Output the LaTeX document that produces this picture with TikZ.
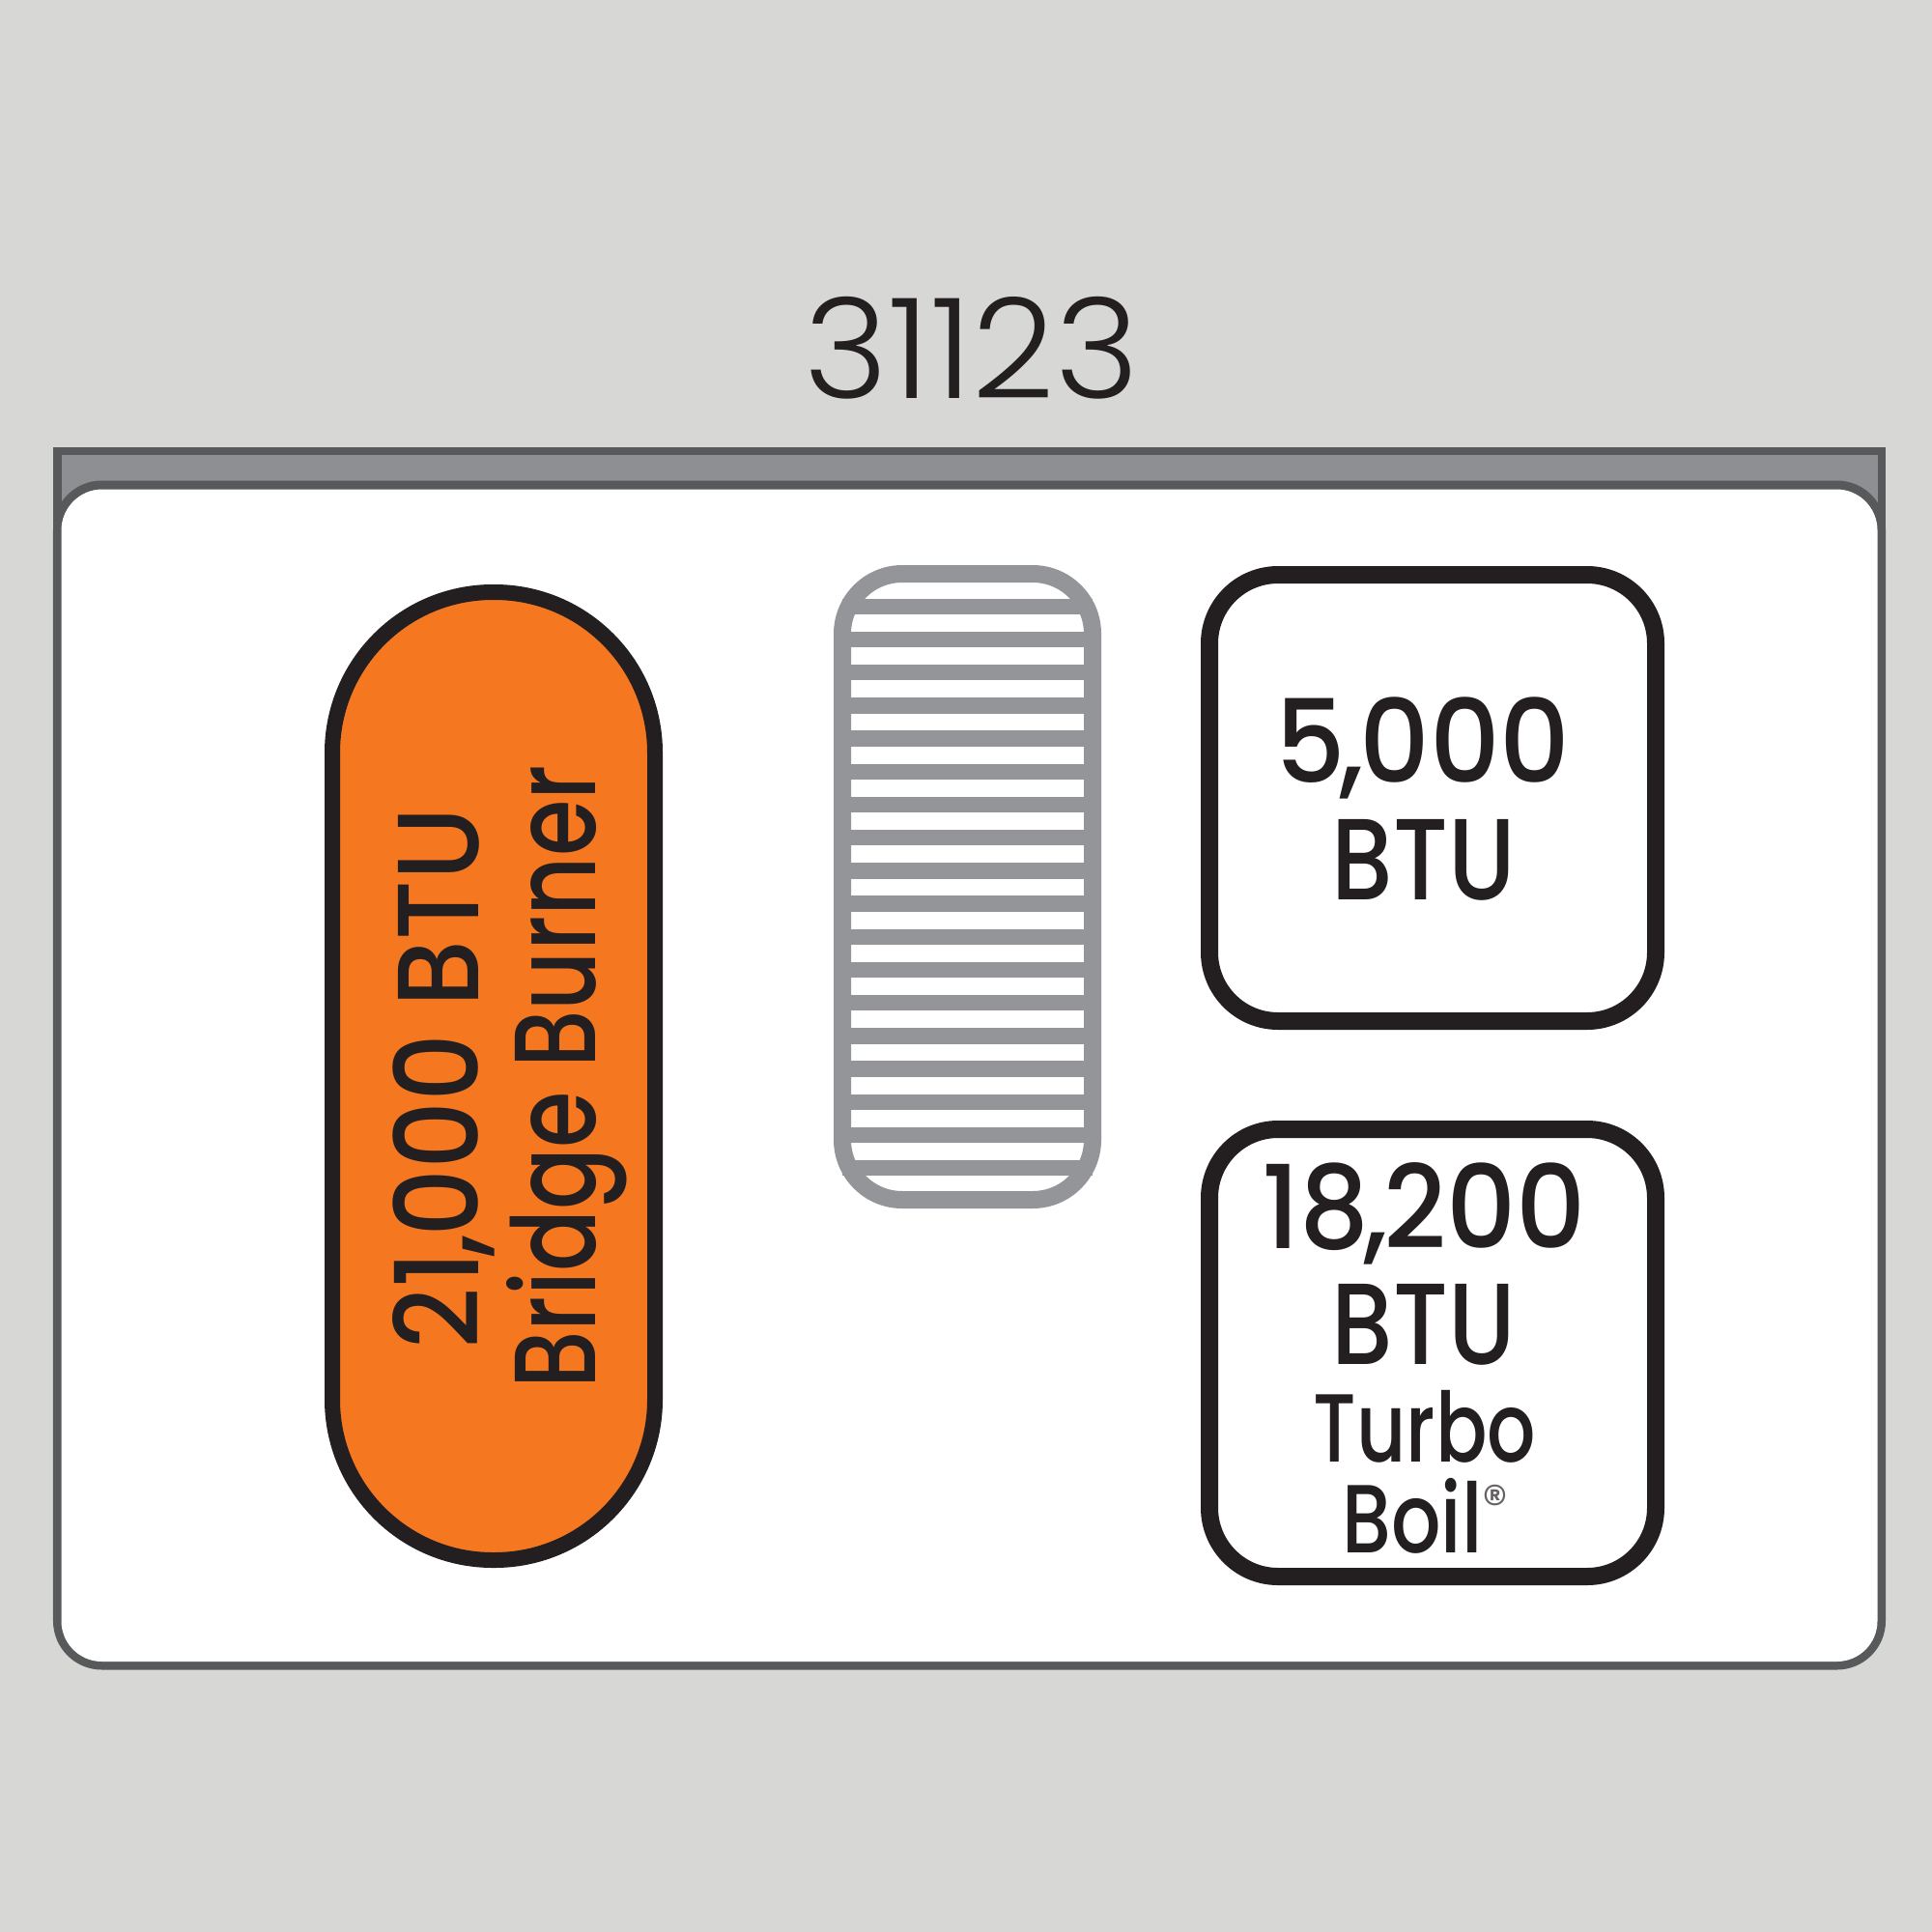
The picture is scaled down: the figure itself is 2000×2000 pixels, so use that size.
\documentclass[tikz,border=0pt]{standalone}
\usepackage{fontspec}
\usepackage{graphicx}
\setmainfont{Poppins}
\newfontfamily\medfont{Poppins Medium}
\newfontfamily\lightfont{Poppins Light}
\definecolor{bgc}{HTML}{D7D7D5}
\definecolor{orangec}{HTML}{F57720}
\definecolor{gratec}{HTML}{939598}
\definecolor{edgec}{HTML}{58595B}
\definecolor{inkc}{HTML}{231F20}
\newcommand{\fitw}[2]{\resizebox{#1cm}{\height}{#2}}
\tikzset{
  big/.style={anchor=base,inner sep=0pt,text=inkc,font=\fontsize{34}{34}\selectfont\medfont},
  small/.style={anchor=base,inner sep=0pt,text=inkc,font=\fontsize{28.5}{28.5}\selectfont\medfont},
  burnerbox/.style={draw=inkc,line width=18*0.2845pt,fill=white,rounded corners=0.71cm}
}
\begin{document}
\begin{tikzpicture}[x=0.01cm,y=-0.01cm]
\useasboundingbox (0,0) rectangle (2000,2000);
\fill[bgc] (0,0) rectangle (2000,2000);
% panel
\fill[edgec] (55,463) rectangle (1952,560) ;
\fill[gratec!96!black] (63,471) rectangle (1944,540);
\draw[edgec,line width=9*0.2845pt,fill=white,rounded corners=0.46cm] (59.5,502) rectangle (1947.5,1724);
\fill[edgec] (55,463) rectangle (63.5,560);
\fill[edgec] (1943.5,463) rectangle (1952,560);
\fill[white,rounded corners=0.42cm] (63.5,507) rectangle (1943.5,1720);
% pill
\draw[inkc,line width=16*0.2845pt,fill=orangec,rounded corners=1.66cm] (344,613) rectangle (678,1615);
% grate
\foreach \i in {0,...,17}{
  \fill[gratec] (872,{619.5+\i*34.2}) rectangle (1131,{636+\i*34.2});
}
\draw[gratec,line width=18*0.2845pt,rounded corners=0.62cm] (872,594) rectangle (1131,1242);
% boxes
\draw[burnerbox] (1252,595) rectangle (1714,1057);
\draw[burnerbox] (1252,1169) rectangle (1714,1632);
% text
\node[anchor=base,inner sep=0pt,text=inkc,font=\fontsize{41}{41}\selectfont\lightfont] (model) at (1006,412) {\fitw{3.46}{31123}};
\node[big] (a1) at (1473,810) {\fitw{3.05}{5\kern-.06em,\kern-.04em 000}};
\node[big] (a2) at (1474,931) {\fitw{1.90}{BTU}};
\node[big] (b1) at (1474,1292) {\fitw{3.35}{18\kern-.06em,\kern-.04em 200}};
\node[big] (b2) at (1474,1412) {\fitw{1.90}{BTU}};
\node[small] (b3) at (1475,1513) {\fitw{2.30}{Turbo}};
\node[small] (b4) at (1462,1607) {\fitw{1.45}{Boil}};
\node[anchor=center,inner sep=0pt,text=inkc!70!white,font=\fontsize{15}{15}\selectfont] (b5) at (1548,1556) {®};
\node[big,rotate=90] (c1) at (495,1116) {\fitw{5.60}{21\kern-.06em,\kern-.04em 000 BTU}};
\node[big,rotate=90] (c2) at (616,1115) {\fitw{6.45}{Bridge Burner}};
\end{tikzpicture}
\end{document}
